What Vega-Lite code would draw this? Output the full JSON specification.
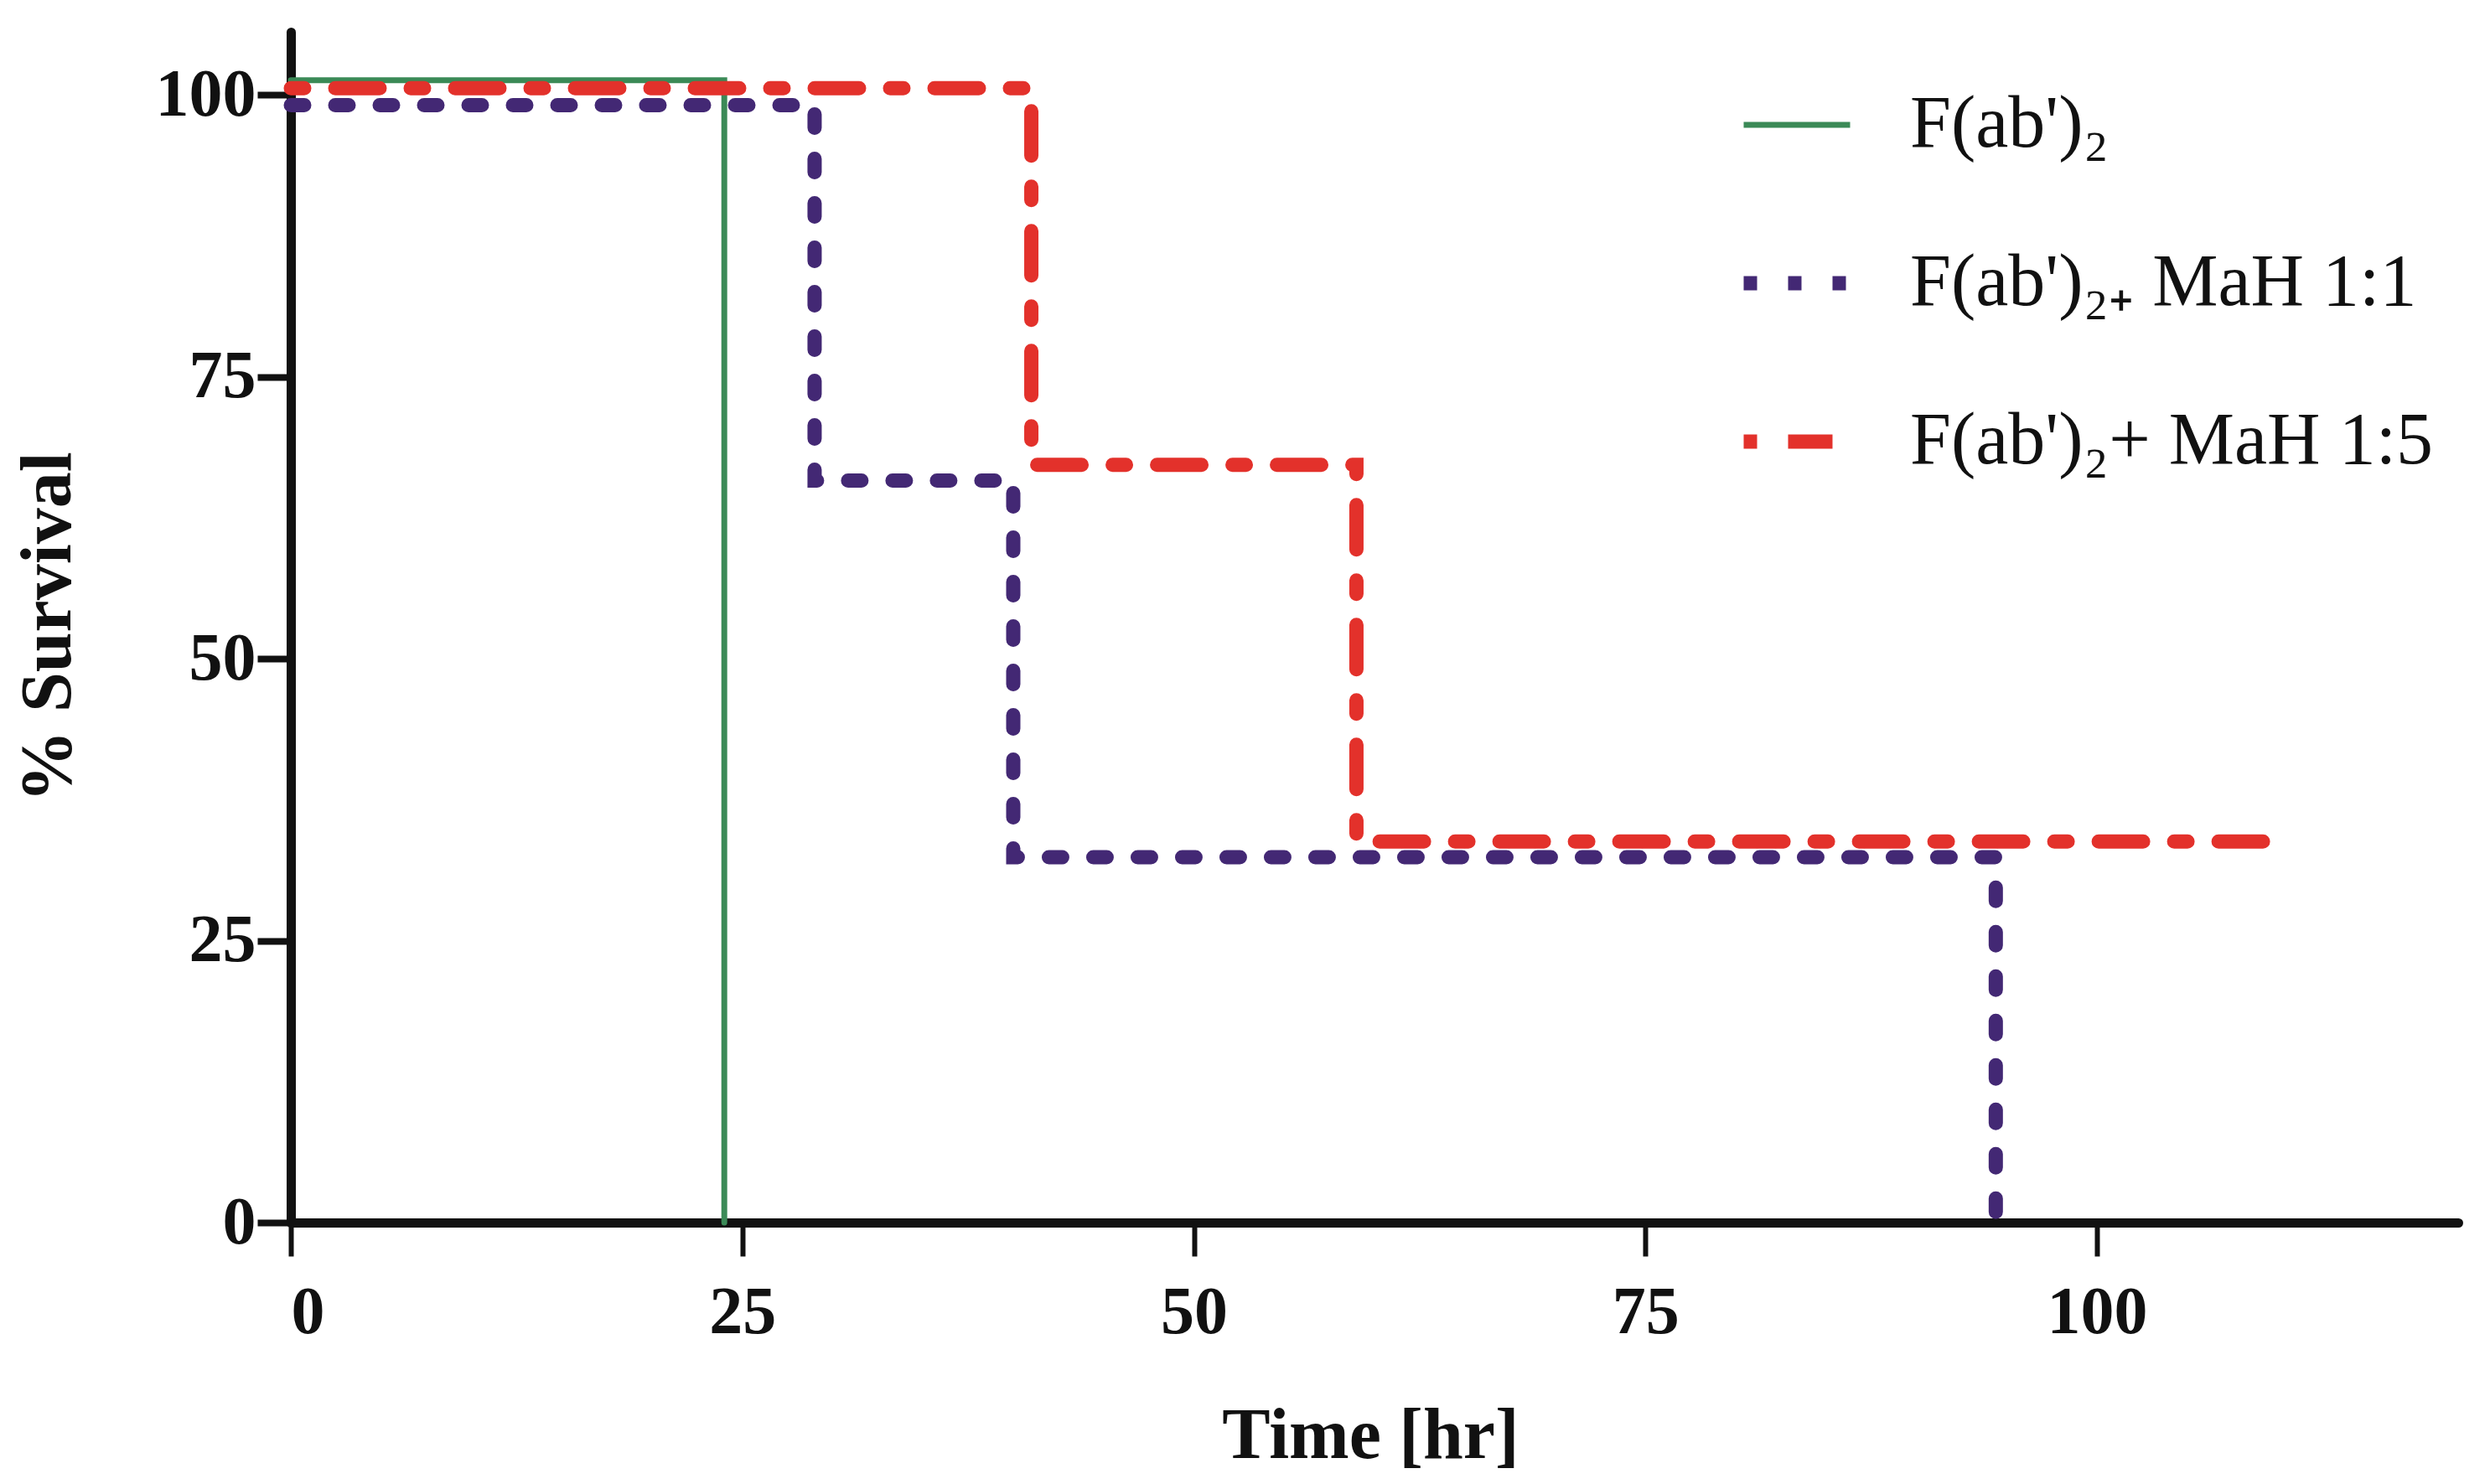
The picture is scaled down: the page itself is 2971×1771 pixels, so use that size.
{
  "$schema": "https://vega.github.io/schema/vega-lite/v6.json",
  "autosize": "none",
  "width": 2586,
  "height": 1421,
  "padding": {"left": 347, "top": 38, "right": 38, "bottom": 312},
  "background": "white",
  "config": {
    "view": {"stroke": null},
    "font": "Liberation Serif"
  },
  "data": {
    "values": [
      {"series": "F(ab')₂", "time": 0, "survival": 101.3},
      {"series": "F(ab')₂", "time": 24, "survival": 0},
      {"series": "F(ab')₂₊ MaH 1:1", "time": 0, "survival": 99.1},
      {"series": "F(ab')₂₊ MaH 1:1", "time": 29, "survival": 65.8},
      {"series": "F(ab')₂₊ MaH 1:1", "time": 40, "survival": 32.4},
      {"series": "F(ab')₂₊ MaH 1:1", "time": 94.4, "survival": 0},
      {"series": "F(ab')₂+ MaH 1:5", "time": 0, "survival": 100.6},
      {"series": "F(ab')₂+ MaH 1:5", "time": 41, "survival": 67.2},
      {"series": "F(ab')₂+ MaH 1:5", "time": 59, "survival": 33.8},
      {"series": "F(ab')₂+ MaH 1:5", "time": 110, "survival": 33.8}
    ]
  },
  "mark": {"type": "line", "interpolate": "step-after", "clip": false, "strokeCap": "round"},
  "encoding": {
    "x": {
      "field": "time", "type": "quantitative",
      "scale": {"domain": [0, 120], "nice": false, "zero": false},
      "axis": {
        "title": "Time [hr]",
        "values": [0, 25, 50, 75, 100],
        "grid": false,
        "domainColor": "#111111", "domainWidth": 11, "domainCap": "round",
        "tickColor": "#111111", "tickWidth": 6, "tickSize": 40,
        "labelFont": "Liberation Serif", "labelFontWeight": "bold", "labelFontSize": 80, "labelColor": "#111111",
        "labelPadding": 28,
        "titleFont": "Liberation Serif", "titleFontWeight": "bold", "titleFontSize": 86, "titleColor": "#111111",
        "titleX": 1288, "titleY": 212, "titleBaseline": "top", "titleAlign": "center"
      }
    },
    "y": {
      "field": "survival", "type": "quantitative",
      "scale": {"domain": [0, 105.6], "nice": false, "zero": false},
      "axis": {
        "title": "% Survival",
        "values": [0, 25, 50, 75, 100],
        "grid": false,
        "domainColor": "#111111", "domainWidth": 11, "domainCap": "round",
        "tickColor": "#111111", "tickWidth": 8, "tickSize": 40,
        "labelFont": "Liberation Serif", "labelFontWeight": "bold", "labelFontSize": 80, "labelColor": "#111111",
        "labelPadding": 2,
        "titleFont": "Liberation Serif", "titleFontWeight": "bold", "titleFontSize": 86, "titleColor": "#111111",
        "titleX": -246, "titleY": 710, "titleAngle": -90, "titleBaseline": "bottom", "titleAlign": "center"
      }
    },
    "color": {
      "field": "series", "type": "nominal",
      "scale": {
        "domain": ["F(ab')₂", "F(ab')₂₊ MaH 1:1", "F(ab')₂+ MaH 1:5"],
        "range": ["#3b8a57", "#432874", "#e3312b"]
      },
      "legend": {
        "title": null,
        "orient": "none",
        "legendX": 1725,
        "legendY": 44,
        "symbolType": "stroke",
        "symbolSize": 16129,
        "symbolStrokeWidth": 16,
        "labelFont": "Liberation Serif",
        "labelFontSize": 88,
        "labelColor": "#111111",
        "labelOffset": 63,
        "rowPadding": 73,
        "labelLimit": 1000,
        "encoding": {"symbols": {"update": {"strokeCap": {"value": "round"}}}}
      }
    },
    "strokeDash": {
      "field": "series", "type": "nominal",
      "scale": {
        "domain": ["F(ab')₂", "F(ab')₂₊ MaH 1:1", "F(ab')₂+ MaH 1:5"],
        "range": [[1, 0], [16, 37], [16, 37, 53, 37]]
      }
    },
    "strokeWidth": {
      "field": "series", "type": "nominal",
      "scale": {
        "type": "ordinal",
        "domain": ["F(ab')₂", "F(ab')₂₊ MaH 1:1", "F(ab')₂+ MaH 1:5"],
        "range": [7, 17, 17]
      },
      "legend": null
    }
  }
}
